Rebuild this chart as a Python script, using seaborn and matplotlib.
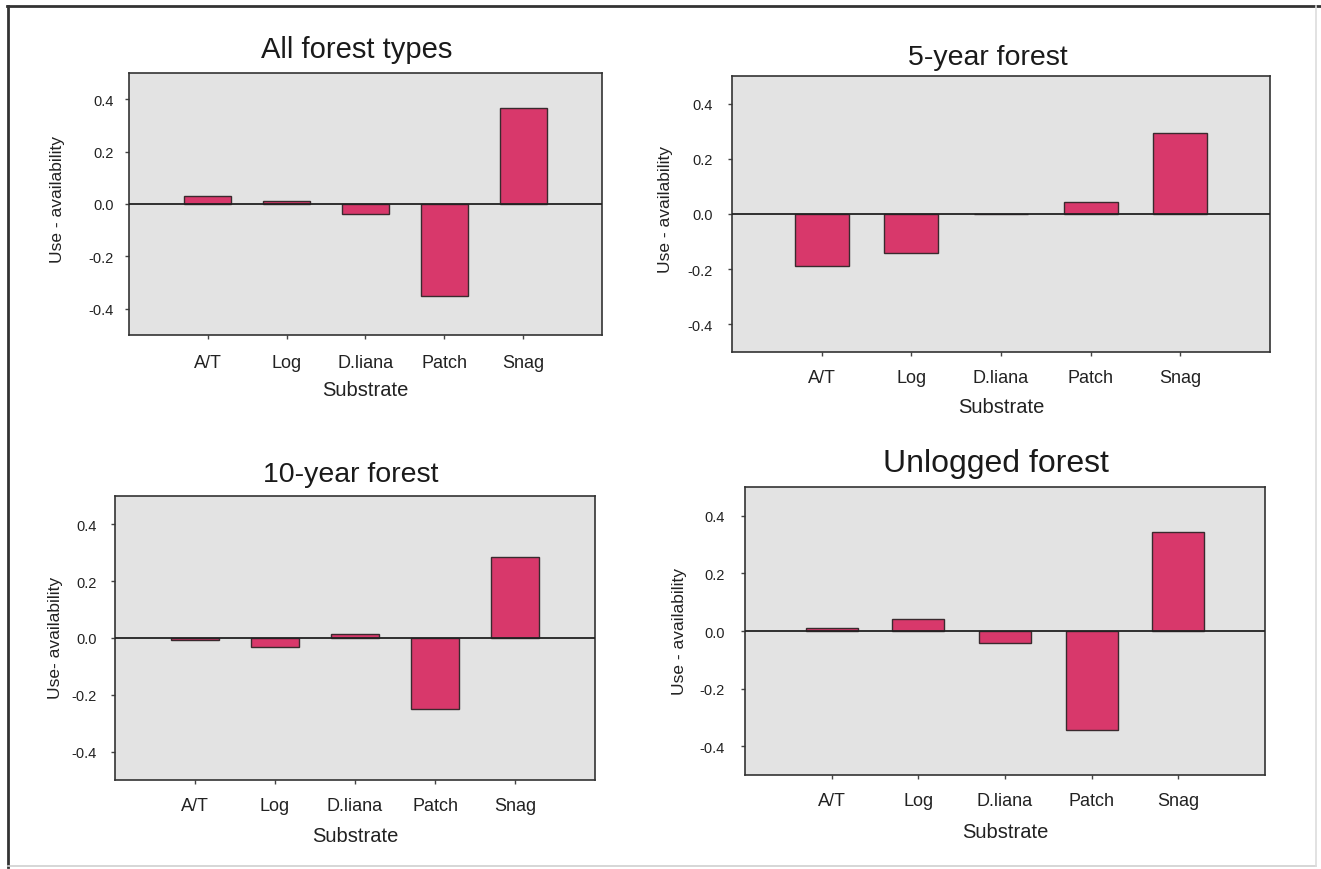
import matplotlib
matplotlib.use("Agg")
import matplotlib.pyplot as plt
from matplotlib.lines import Line2D
import seaborn as sns
import pandas as pd

# ---- data ----
substrates = ["A/T", "Log", "D.liana", "Patch", "Snag"]
titles = ["All forest types", "5-year forest", "10-year forest", "Unlogged forest"]
ylabels = ["Use - availability", "Use - availability", "Use- availability", "Use - availability"]
all_forest = [0.032, 0.013, -0.040, -0.350, 0.368]
five_year = [-0.190, -0.140, 0.0, 0.043, 0.294]
ten_year = [-0.008, -0.030, 0.013, -0.250, 0.286]
unlogged = [0.009, 0.041, -0.040, -0.343, 0.343]
series = [all_forest, five_year, ten_year, unlogged]
ytick_vals = [-0.4, -0.2, 0.0, 0.2, 0.4]
ytick_labels = ["-0.4", "-0.2", "0.0", "0.2", "0.4"]

plt.rcParams["font.family"] = ["Liberation Sans", "DejaVu Sans"]
plt.rcParams["axes.unicode_minus"] = False

W, H = 1321, 870
fig = plt.figure(figsize=(W / 100, H / 100), dpi=100)

# axes boxes in pixels: left, top, right, bottom
boxes = [(129, 74, 602, 336), (732, 77, 1270, 353), (115, 497, 595, 781), (745, 488, 1265, 776)]
title_pos = [(0.481, 1.060, 21), (0.476, 1.043, 20.5), (0.492, 1.054, 20.5), (0.483, 1.057, 23)]
xpad = [11, 9, 9, 9]
ypad = [8, 11, 10, 11.5]
xlab_y = [-0.172, -0.163, -0.161, -0.164]
ylab_xy = [(-0.135, 0.522), (-0.110, 0.52), (-0.108, 0.502), (-0.111, 0.501)]

bar_color = "#d8386b"
for i in range(4):
    l, t, r, b = boxes[i]
    ax = fig.add_axes([l / W, 1 - b / H, (r - l) / W, (b - t) / H])
    ax.set_facecolor("#e3e3e3")
    df = pd.DataFrame({"Substrate": substrates, "value": series[i]})
    sns.barplot(data=df, x="Substrate", y="value", color=bar_color, saturation=1,
                width=0.6, edgecolor="#3a2a2e", linewidth=1.0, errorbar=None, ax=ax)
    ax.axhline(0, color="#222222", lw=1.3, zorder=3)
    ax.set_xlim(-1, 5)
    ax.set_ylim(-0.5, 0.5)
    ax.set_yticks(ytick_vals)
    ax.set_yticklabels(ytick_labels)
    for s in ax.spines.values():
        s.set_color("#333333")
        s.set_linewidth(1.2)
    ax.tick_params(axis="x", length=3, width=1, color="#444444", pad=xpad[i], labelsize=13, labelcolor="#222222")
    ax.tick_params(axis="y", length=3, width=1, color="#444444", pad=ypad[i], labelsize=10.5, labelcolor="#222222")
    ax.set_xlabel("Substrate", fontsize=14.5, color="#222222")
    ax.xaxis.set_label_coords(0.5, xlab_y[i])
    ax.set_ylabel(ylabels[i], fontsize=12.5, color="#222222")
    ax.yaxis.set_label_coords(*ylab_xy[i])
    tx, ty, ts = title_pos[i]
    ax.set_title(titles[i], x=tx, y=ty, pad=0, fontsize=ts, color="#1a1a1a")

# outer frame
def px_line(x0, y0, x1, y1, color, lw):
    fig.add_artist(Line2D([x0 / W, x1 / W], [1 - y0 / H, 1 - y1 / H],
                          transform=fig.transFigure, color=color, lw=lw))

px_line(7, 7, 1321, 7, "#333333", 2.0)
px_line(8, 7, 8, 868, "#333333", 2.0)
px_line(8, 867, 1316, 867, "#cfcfcf", 1.2)
px_line(1316, 7, 1316, 867, "#dddddd", 1.2)

fig.savefig("out.png", dpi=100, facecolor="white")
